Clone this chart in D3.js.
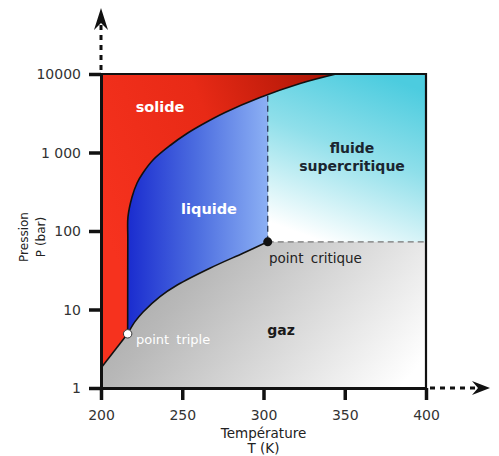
<!DOCTYPE html>
<html>
<head>
<meta charset="utf-8">
<script src="https://cdn.jsdelivr.net/npm/d3@7"></script>
<style>
  body { margin: 0; background: #fff; }
  svg { font-family: "DejaVu Sans", sans-serif; }
</style>
</head>
<body>
<svg id="chart" width="499" height="456"></svg>
<script>
// phase diagram, CO2-like
var tempTicks = [200, 250, 300, 350, 400]
var pressTicks = [1, 10, 100, 1000, 10000]
var pressLabels = ['1', '10', '100', '1 000', '10000']

// sublimation curve (solid / gas)
var sublimT = [200, 216.4]
var sublimP = [1.8, 4.9]

// melting curve (solid / liquid)
var meltT = [216.4, 216.45, 216.5, 216.6, 219.1, 222.2, 225.8, 232, 242.5, 252.9, 262.8, 276.3, 297.8, 322.5, 344.6]
var meltP = [4.9, 30, 80, 151, 271, 409, 548, 802, 1228, 1746, 2307, 3234, 5020, 7570, 10000]

// vaporisation curve (liquid / gas)
var vapT = [216.4, 220.9, 225.9, 236.3, 246.9, 267.3, 287.7, 302.6]
var vapP = [4.9, 7.0, 9.3, 14.6, 20.5, 33.8, 52.5, 72.8]

var triple = { T: 216.4, P: 4.9 }
var critical = { T: 302.6, P: 72.8 }

var W = 499, H = 456
var margin = { top: 74, right: 73, bottom: 68, left: 101 }

var svg = d3.select('#chart')
var x = d3.scaleLinear().domain([200, 400]).range([margin.left, W - margin.right])
var y = d3.scaleLog().domain([1, 10000]).range([H - margin.bottom, margin.top])

var defs = svg.append('defs')
defs.append('clipPath').attr('id', 'plot')
  .append('rect')
    .attr('x', x(200)).attr('y', y(10000))
    .attr('width', x(400) - x(200)).attr('height', y(1) - y(10000))

function grad (id, x1, y1, x2, y2, stops) {
  var g = defs.append('linearGradient').attr('id', id)
    .attr('x1', x1).attr('y1', y1).attr('x2', x2).attr('y2', y2)
  stops.forEach((s) => g.append('stop').attr('offset', s[0]).attr('stop-color', s[1]))
}
grad('gGas', 0, 0.1, 1, 0.9, [[0, '#8a8a8a'], [0.45, '#b8b8b8'], [1, '#ffffff']])
grad('gSuper', 0.7, 0, 0.35, 1, [[0, '#4cccdf'], [0.45, '#8fdfea'], [1, '#ffffff']])
grad('gLiq', 0, 0, 1, 0, [[0, '#1a2ccf'], [0.5, '#4d6ee0'], [1, '#8cb0f4']])
grad('gSol', 0, 0.5, 1, 0, [[0, '#f6321e'], [0.5, '#e82a16'], [1, '#a81404']])

var pts = (T, P) => T.map((t, i) => [t, P[i]])
var line = d3.line().x((d) => x(d[0])).y((d) => y(d[1])).curve(d3.curveCatmullRom)

var melt = pts(meltT, meltP)
var vap = pts(vapT, vapP)
var sub = pts(sublimT, sublimP)

var meltAt = d3.scaleLinear().domain(meltT).range(meltP.map(Math.log10))
var pMeltCrit = Math.pow(10, meltAt(critical.T))

var g = svg.append('g').attr('clip-path', 'url(#plot)')

// gas: whole background
g.append('rect')
  .attr('x', x(200)).attr('y', y(10000))
  .attr('width', x(400) - x(200)).attr('height', y(1) - y(10000))
  .attr('fill', 'url(#gGas)')

// supercritical fluid
g.append('rect')
  .attr('x', x(critical.T)).attr('y', y(10000))
  .attr('width', x(400) - x(critical.T)).attr('height', y(critical.P) - y(10000))
  .attr('fill', 'url(#gSuper)')

// liquid
var liqPath = line(vap) + 'L' + x(critical.T) + ',' + y(10000) + 'L' + x(triple.T) + ',' + y(10000) + 'Z'
g.append('path').attr('d', liqPath).attr('fill', 'url(#gLiq)')

// solid
var solPath = 'M' + x(200) + ',' + y(sublimP[0]) + 'L' + x(triple.T) + ',' + y(triple.P) +
  line(melt).replace(/^M/, 'L') + 'L' + x(200) + ',' + y(10000) + 'Z'
g.append('path').attr('d', solPath).attr('fill', 'url(#gSol)')

// dashed borders of the supercritical region
g.append('line')
  .attr('x1', x(critical.T)).attr('x2', x(critical.T))
  .attr('y1', y(critical.P)).attr('y2', y(pMeltCrit))
  .attr('stroke', '#2a3a5a').attr('stroke-width', 1.3).attr('stroke-dasharray', '6,4')
g.append('line')
  .attr('x1', x(critical.T)).attr('x2', x(400))
  .attr('y1', y(critical.P)).attr('y2', y(critical.P))
  .attr('stroke', '#777').attr('stroke-width', 1.3).attr('stroke-dasharray', '6,4')

// phase boundaries
;[sub, melt, vap].forEach((d) => {
  g.append('path').attr('d', line(d))
    .attr('fill', 'none').attr('stroke', '#111').attr('stroke-width', 1.6)
})

// frame top and right
svg.append('path')
  .attr('d', 'M' + x(200) + ',' + y(10000) + 'H' + x(400) + 'V' + y(1))
  .attr('fill', 'none').attr('stroke', '#111').attr('stroke-width', 2.2)

// points
svg.append('circle').attr('cx', x(triple.T)).attr('cy', y(triple.P)).attr('r', 4.2)
  .attr('fill', '#fff').attr('stroke', '#333').attr('stroke-width', 1)
svg.append('circle').attr('cx', x(critical.T)).attr('cy', y(critical.P)).attr('r', 4.5)
  .attr('fill', '#111')

// axes
var xAxis = svg.append('g').attr('transform', 'translate(0,' + y(1) + ')')
  .call(d3.axisBottom(x).tickValues(tempTicks).tickSize(12).tickSizeOuter(0).tickPadding(5))
var yAxis = svg.append('g').attr('transform', 'translate(' + x(200) + ',0)')
  .call(d3.axisLeft(y).tickValues(pressTicks).tickFormat((d, i) => pressLabels[i])
    .tickSize(12).tickSizeOuter(0).tickPadding(8))
;[xAxis, yAxis].forEach((a) => {
  a.select('.domain').attr('stroke', '#111').attr('stroke-width', 3)
  a.selectAll('.tick line').attr('stroke', '#111').attr('stroke-width', 3.5)
  a.selectAll('.tick text').attr('fill', '#333').attr('font-size', 14)
    .attr('font-family', '"DejaVu Sans", sans-serif')
})
xAxis.selectAll('.tick text').attr('dy', '1.05em')
yAxis.selectAll('.tick text').attr('dy', '0.35em')

// dashed arrows
function arrow (x1, y1, x2, y2, ang) {
  svg.append('line').attr('x1', x1).attr('y1', y1).attr('x2', x2).attr('y2', y2)
    .attr('stroke', '#111').attr('stroke-width', 3).attr('stroke-dasharray', '5,5')
  var tip = ang === 'up' ? [x2, y2 - 8] : [x2 + 8, y2]
  var head = ang === 'up'
    ? [[tip[0], tip[1]], [tip[0] + 7, tip[1] + 22], [tip[0], tip[1] + 15], [tip[0] - 7, tip[1] + 22]]
    : [[tip[0], tip[1]], [tip[0] - 18, tip[1] - 7], [tip[0] - 12, tip[1]], [tip[0] - 18, tip[1] + 7]]
  svg.append('path').attr('d', 'M' + head.join('L') + 'Z').attr('fill', '#111')
}
arrow(x(200), y(10000) - 4, x(200), 16, 'up')
arrow(x(400) + 4, y(1), x(400) + 56, y(1), 'right')

// labels
var lab = (txt, tx, ty, col, weight, size, anchor) => svg.append('text')
  .attr('x', tx).attr('y', ty).attr('text-anchor', anchor || 'middle')
  .attr('fill', col).attr('font-weight', weight).attr('font-size', size).text(txt)

lab('solide', 160, 112, '#fff', 'bold', 14.5)
lab('liquide', 209, 214, '#fff', 'bold', 14.5)
lab('fluide', 352, 153, '#1a2530', 'bold', 14)
lab('supercritique', 352, 171, '#1a2530', 'bold', 14)
lab('gaz', 281, 335, '#1a1a1a', 'bold', 14)
lab('point triple', 136, 344, '#fff', 'normal', 13, 'start').attr('word-spacing', 3)
lab('point critique', 269, 263, '#222', 'normal', 13.5, 'start').attr('word-spacing', 3)

lab('Température', x(300), 438, '#222', 'normal', 13.5)
lab('T (K)', x(300), 453, '#222', 'normal', 13.5)

svg.append('text').attr('transform', 'translate(28,237) rotate(-90)')
  .attr('text-anchor', 'middle').attr('fill', '#222').attr('font-size', 12).text('Pression')
svg.append('text').attr('transform', 'translate(45,237) rotate(-90)')
  .attr('text-anchor', 'middle').attr('fill', '#222').attr('font-size', 12).text('P (bar)')
</script>
</body>
</html>
